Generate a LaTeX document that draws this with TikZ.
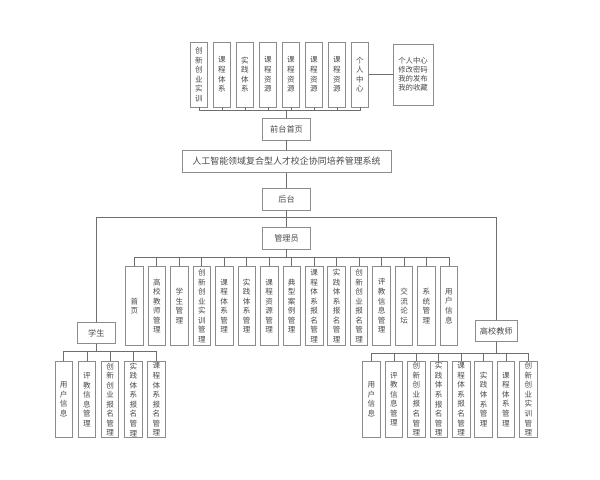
\documentclass[tikz,border=0pt]{standalone}
\usepackage{fontspec}
\newfontfamily\cjk{Noto Sans CJK SC}
\definecolor{boxline}{HTML}{8C8C8C}
\definecolor{wire}{HTML}{6E6E6E}
\definecolor{ink}{HTML}{4A4A4A}
\tikzset{
  base/.style={draw=boxline, line width=0.8bp, fill=white, inner sep=0pt, align=center, text=ink, font=\cjk\fontsize{7.6}{9.6}\selectfont},
  vbox/.style={base, minimum width=17.5bp},
  hbox/.style={base, font=\cjk\fontsize{8.2}{10}\selectfont},
  conn/.style={draw=wire, line width=0.8bp}
}
\begin{document}
\begin{tikzpicture}[x=1bp,y=-1bp]
\useasboundingbox (0,0) rectangle (600,480);
% ---------- top row ----------
\foreach \t [count=\i from 0] in {创\\新\\创\\业\\实\\训, 课\\程\\体\\系, 实\\践\\体\\系, 课\\程\\资\\源, 课\\程\\资\\源, 课\\程\\资\\源, 课\\程\\资\\源, 个\\人\\中\\心}
  \node[vbox, minimum width=17bp, minimum height=65bp] (t\i) at ({199+23*\i},74.5) {\t};
\node[base, minimum width=40bp, minimum height=61bp, font=\cjk\fontsize{7.4}{9}\selectfont] (pc) at (413,74.5) {个人中心\\修改密码\\我的发布\\我的收藏};
\draw[conn] (t7.east) -- (pc.west |- t7.east);
\node[hbox, minimum width=48.5bp, minimum height=22bp] (front) at (286.5,129) {前台首页};
\coordinate (tb) at (0,110.7);
\draw[conn] (t0.south) -- (t0.south |- tb) -- (t7.south |- tb) -- (t7.south);
\foreach \i in {1,...,6} \draw[conn] (t\i.south) -- (t\i.south |- tb);
\draw[conn] (front.north |- tb) -- (front.north);
% ---------- system ----------
\node[hbox, minimum width=209bp, minimum height=21.7bp, font=\cjk\fontsize{9}{11}\selectfont] (sys) at (286.5,161.5) {人工智能领域复合型人才校企协同培养管理系统};
\draw[conn] (front.south) -- (sys.north);
\node[hbox, minimum width=48.5bp, minimum height=22bp] (back) at (286.5,199) {后台};
\draw[conn] (sys.south) -- (back.north);
\node[hbox, minimum width=48.5bp, minimum height=22bp] (admin) at (286.5,238) {管理员};
\draw[conn] (back.south) -- (admin.north);
% ---------- roles ----------
\node[hbox, minimum width=37.3bp, minimum height=20.6bp] (stu) at (96.3,333) {学生};
\node[hbox, minimum width=41.7bp, minimum height=21bp] (tea) at (496.3,331.2) {高校教师};
\coordinate (rb) at (0,217.7);
\draw[conn] (stu.north) -- (stu.north |- rb) -- (tea.north |- rb) -- (tea.north);
% ---------- admin children ----------
\foreach \t [count=\i from 0] in {首\\页, 高\\校\\教\\师\\管\\理, 学\\生\\管\\理, 创\\新\\创\\业\\实\\训\\管\\理, 课\\程\\体\\系\\管\\理, 实\\践\\体\\系\\管\\理, 课\\程\\资\\源\\管\\理, 典\\型\\案\\例\\管\\理, 课\\程\\体\\系\\报\\名\\管\\理, 实\\践\\体\\系\\报\\名\\管\\理, 创\\新\\创\\业\\报\\名\\管\\理, 评\\教\\信\\息\\管\\理, 交\\流\\论\\坛, 系\\统\\管\\理, 用\\户\\信\\息}
  \node[vbox, minimum height=78.3bp] (a\i) at ({134.4+22.47*\i},306) {\t};
\coordinate (ab) at (0,257.7);
\draw[conn] (admin.south) -- (admin.south |- ab);
\draw[conn] (a0.north) -- (a0.north |- ab) -- (a14.north |- ab) -- (a14.north);
\foreach \i in {1,...,13} \draw[conn] (a\i.north) -- (a\i.north |- ab);
% ---------- student children ----------
\foreach \t [count=\i from 0] in {用\\户\\信\\息, 评\\教\\信\\息\\管\\理, 创\\新\\创\\业\\报\\名\\管\\理, 实\\践\\体\\系\\报\\名\\管\\理, 课\\程\\体\\系\\报\\名\\管\\理}
  \node[vbox, minimum height=75.6bp] (s\i) at ({63.7+23.2*\i},399.5) {\t};
\coordinate (sb) at (0,351.7);
\draw[conn] (stu.south) -- (stu.south |- sb);
\draw[conn] (s0.north) -- (s0.north |- sb) -- (s4.north |- sb) -- (s4.north);
\foreach \i in {1,...,3} \draw[conn] (s\i.north) -- (s\i.north |- sb);
% ---------- teacher children ----------
\foreach \t [count=\i from 0] in {用\\户\\信\\息, 评\\教\\信\\息\\管\\理, 创\\新\\创\\业\\报\\名\\管\\理, 实\\践\\体\\系\\报\\名\\管\\理, 课\\程\\体\\系\\报\\名\\管\\理, 实\\践\\体\\系\\管\\理, 课\\程\\体\\系\\管\\理, 创\\新\\创\\业\\实\\训\\管\\理}
  \node[vbox, minimum height=76.3bp] (c\i) at ({371.5+22.42*\i},399.2) {\t};
\coordinate (cb) at (0,353.3);
\draw[conn] (tea.south) -- (tea.south |- cb);
\draw[conn] (c0.north) -- (c0.north |- cb) -- (c7.north |- cb) -- (c7.north);
\foreach \i in {1,...,6} \draw[conn] (c\i.north) -- (c\i.north |- cb);
\end{tikzpicture}
\end{document}
